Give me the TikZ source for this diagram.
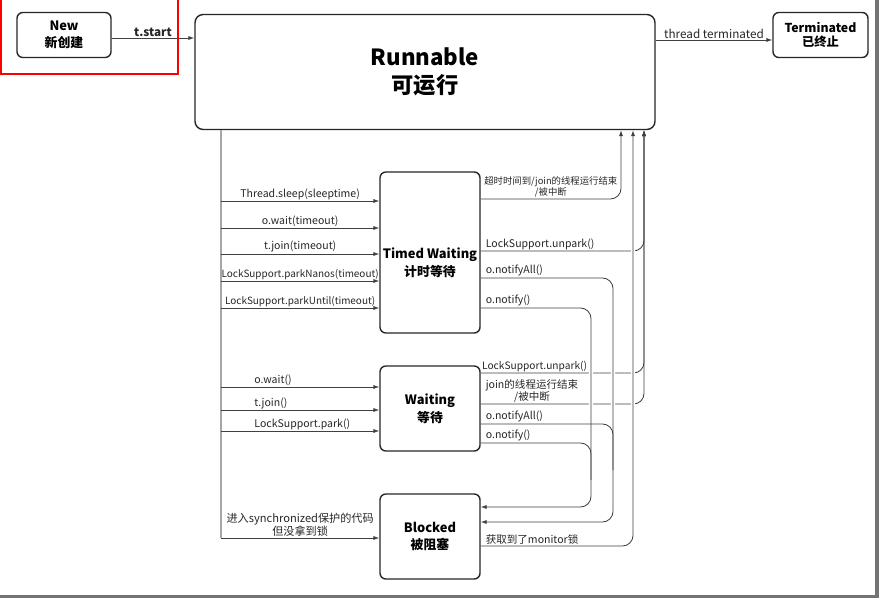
\documentclass[tikz,border=0pt]{standalone}
\usepackage{fontspec}
\setmainfont{Noto Sans CJK SC}
\usetikzlibrary{arrows.meta}

\begin{document}
\begin{tikzpicture}[x=0.03cm, y=-0.03cm,
    state/.style={rectangle, draw=black!85, line width=1.2pt, rounded corners=5pt, fill=white, align=center, inner sep=0pt, font=\fontsize{11}{15}\selectfont\bfseries},
    trans/.style={draw=black!75, line width=0.7pt, -{Latex[length=5pt,width=3.5pt]}},
    wire/.style={draw=black!75, line width=0.7pt},
    bus/.style={draw=black!35, line width=1.2pt},
    cross/.style={preaction={draw=white, line width=3.5pt, -, shorten <=2pt, shorten >=2pt}},
    elbow/.style={rounded corners=9pt},
    lbl/.style={font=\fontsize{9}{10}\selectfont, inner sep=1pt, text=black!85},
    small/.style={font=\fontsize{8}{9.5}\selectfont, inner sep=1pt, align=center, text=black!85},
]
\useasboundingbox (0,0) rectangle (879,598);

% states
\node[state, minimum width=2.82cm, minimum height=1.35cm] (new) at (64,35) {New\\新创建};
\node[state, minimum width=13.8cm, minimum height=3.45cm, rounded corners=7pt,
      font=\fontsize{19}{23.5}\selectfont\bfseries] (run) at (425,72) {Runnable\\可运行};
\node[state, minimum width=2.85cm, minimum height=1.35cm, font=\fontsize{10.5}{12.5}\selectfont\bfseries] (term) at (820.5,35) {Terminated\\已终止};
\node[state, minimum width=3cm, minimum height=4.83cm] (timed) at (430,252.5) {};
\node[font=\fontsize{11}{15}\selectfont\bfseries, align=center] (timedtext) at ([yshift=-0.3cm]timed.center) {Timed Waiting\\计时等待};
\node[state, minimum width=3cm, minimum height=2.55cm] (waiting) at (430,408.5) {Waiting\\等待};
\node[state, minimum width=3cm, minimum height=2.55cm] (blocked) at (430,536.5) {Blocked\\被阻塞};

% top row
\draw[trans] (new.east |- 0,38) -- node[lbl, above, font=\fontsize{10}{12}\selectfont\bfseries]{t.start} (run.west |- 0,38);
\draw[trans] (run.east |- 0,40) -- node[lbl, above, font=\fontsize{10}{12}\selectfont]{thread terminated} (term.west |- 0,40);

% left bus out of Runnable
\coordinate (bus) at (221,0);
\draw[bus] (bus |- run.south) -- (bus |- 0,538);

\draw[trans] (bus |- 0,201) -- node[lbl, above]{Thread.sleep(sleeptime)} (timed.west |- 0,201);
\draw[trans] (bus |- 0,228) -- node[lbl, above]{o.wait(timeout)} (timed.west |- 0,228);
\draw[trans] (bus |- 0,254) -- node[lbl, above]{t.join(timeout)} (timed.west |- 0,254);
\draw[trans] (bus |- 0,281) -- node[lbl, above, font=\fontsize{8.5}{10}\selectfont]{LockSupport.parkNanos(timeout)} (timed.west |- 0,281);
\draw[trans] (bus |- 0,308) -- node[lbl, above, font=\fontsize{8.5}{10}\selectfont]{LockSupport.parkUntil(timeout)} (timed.west |- 0,308);

\draw[trans] (bus |- 0,387) -- (waiting.west |- 0,387);
\draw[trans] (bus |- 0,410) -- (waiting.west |- 0,410);
\draw[trans] (bus |- 0,431) -- (waiting.west |- 0,431);
\node[lbl, above right] (lwait) at (253,387) {o.wait()};
\node[lbl, above right] (ljoin) at (253,410) {t.join()};
\node[lbl, above right] (lpark) at (253,431) {LockSupport.park()};

\draw[trans] (bus |- 0,538) -- node[lbl, above, align=center, font=\fontsize{9.5}{11}\selectfont]{进入synchronized保护的代码\\但没拿到锁} (blocked.west |- 0,538);

% right side columns
\coordinate (c1) at (621,0);
\coordinate (c2) at (633,0);
\coordinate (c3) at (644,0);
\coordinate (d1) at (591,0);
\coordinate (d2) at (613,0);

% back to Runnable
\draw[trans, elbow] (timed.east |- 0,199) -- node[small, above]{超时时间到/join的线程运行结束\\/被中断} (c1 |- 0,199) -- (c1 |- run.south);
\draw[trans, elbow] (timed.east |- 0,251) -- node[lbl, pos=0, above right, xshift=3pt]{LockSupport.unpark()} (c3 |- 0,251) -- (c3 |- run.south);
\draw[trans, elbow] (waiting.east |- 0,373) -- (c3 |- 0,373) -- (c3 |- run.south);
\draw[trans, elbow] (waiting.east |- 0,404) -- node[small, pos=0, above right, xshift=3pt, font=\fontsize{9}{10.5}\selectfont]{join的线程运行结束\\/被中断} (c3 |- 0,404) -- (c3 |- run.south);
\draw[trans, elbow, cross] (blocked.east |- 0,546) -- node[lbl, pos=0, above right, xshift=3pt]{获取到了monitor锁} (c2 |- 0,546) -- (c2 |- run.south);

% notify into Blocked
\draw[trans, elbow, cross] (timed.east |- 0,278) -- node[lbl, pos=0, above right, xshift=3pt]{o.notifyAll()} (d2 |- 0,278) -- (d2 |- 0,522) -- (blocked.east |- 0,522);
\draw[trans, elbow, cross] (timed.east |- 0,308) -- node[lbl, pos=0, above right, xshift=3pt]{o.notify()} (d1 |- 0,308) -- (d1 |- 0,507) -- (blocked.east |- 0,507);
\draw[wire, elbow] (waiting.east |- 0,424) -- node[lbl, pos=0, above right, xshift=3pt]{o.notifyAll()} (d2 |- 0,424) -- (d2 |- 0,470);
\draw[wire, elbow] (waiting.east |- 0,443) -- node[lbl, pos=0, above right, xshift=3pt]{o.notify()} (d1 |- 0,443) -- (d1 |- 0,480);

% label drawn over the crossings
\node[lbl, above right, font=\fontsize{8.7}{10}\selectfont] (lunpark) at (waiting.east |- 0,373) {LockSupport.unpark()};

% highlight and page frame
\draw[red, line width=2pt] (1,-5) rectangle (178,74);
\fill[black!55] (875,0) rectangle (879,598);
\fill[black!55] (0,595) rectangle (879,598);
\end{tikzpicture}
\end{document}
